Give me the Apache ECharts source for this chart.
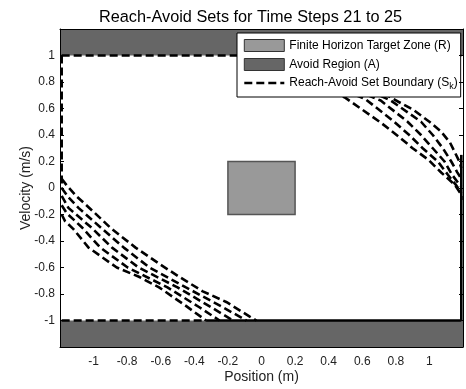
<!DOCTYPE html>
<html>
<head>
<meta charset="utf-8">
<script src="https://cdn.jsdelivr.net/npm/echarts@6/dist/echarts.min.js"></script>
<style>html,body{margin:0;padding:0;background:#fff}#c{width:466px;height:389px}</style>
</head>
<body>
<div id="c"></div>
<script>
// ---- data ----
const titleText = 'Reach-Avoid Sets for Time Steps 21 to 25';
const xName = 'Position (m)';
const yName = 'Velocity (m/s)';
const axisMin = -1.2, axisMax = 1.2, tickStep = 0.2;

// rectangles: [x0, y0, x1, y1]
const targetZone = [[-0.2, -0.2, 0.2, 0.2]];
const avoidRegion = [[-1.2, 1.0, 1.2, 1.2], [-1.2, -1.2, 1.2, -1.0]];

// reach-avoid boundaries, upper-right branches [position, velocity]
const tr1 = [[0.36,1.0],[0.52,0.88],[0.66,0.76],[0.815,0.651],[0.904,0.59],[1.0,0.50],[1.07,0.425],[1.123,0.342],[1.155,0.26],[1.178,0.2],[1.19,0.15]];
const tr2 = [[0.27,1.0],[0.43,0.88],[0.58,0.77],[0.77,0.66],[0.95,0.50],[1.02,0.40],[1.08,0.30],[1.13,0.20],[1.165,0.12],[1.19,0.07]];
const tr3 = [[0.19,1.0],[0.34,0.88],[0.50,0.77],[0.71,0.66],[0.87,0.50],[0.95,0.40],[1.02,0.30],[1.09,0.20],[1.135,0.10],[1.17,0.04],[1.19,0.01]];
const tr4 = [[0.12,1.0],[0.27,0.88],[0.43,0.77],[0.62,0.67],[0.79,0.50],[0.88,0.40],[0.96,0.30],[1.05,0.20],[1.11,0.10],[1.16,0.02],[1.19,-0.04]];
const tr5 = [[0.05,1.0],[0.20,0.87],[0.35,0.78],[0.50,0.68],[0.714,0.49],[0.815,0.39],[0.90,0.30],[0.993,0.214],[1.07,0.117],[1.15,0.026],[1.19,-0.05],[1.19,-0.09]];
// lower-left branches
const bl1 = [[-1.19,-0.2],[-1.17,-0.25],[-1.12,-0.31],[-1.03,-0.45],[-0.862,-0.60],[-0.73,-0.67],[-0.61,-0.75],[-0.45,-0.89],[-0.33,-1.0]];
const bl2 = [[-1.19,-0.13],[-1.16,-0.19],[-1.067,-0.30],[-0.96,-0.45],[-0.797,-0.60],[-0.56,-0.75],[-0.37,-0.90],[-0.25,-1.0]];
const bl3 = [[-1.19,-0.06],[-1.15,-0.15],[-1.012,-0.30],[-0.89,-0.45],[-0.732,-0.60],[-0.50,-0.75],[-0.30,-0.90],[-0.17,-1.0]];
const bl4 = [[-1.19,0.0],[-1.15,-0.07],[-1.09,-0.15],[-0.956,-0.30],[-0.82,-0.45],[-0.667,-0.60],[-0.45,-0.75],[-0.23,-0.90],[-0.09,-1.0]];
const bl5 = [[-1.19,0.07],[-1.16,0.02],[-1.10,-0.064],[-1.0,-0.18],[-0.90,-0.30],[-0.75,-0.45],[-0.60,-0.58],[-0.49,-0.67],[-0.35,-0.78],[-0.21,-0.86],[-0.07,-0.97],[-0.03,-1.0]];
// boundary segments along the state-space edges
const edgeTop = [[-1.19,1.0],[1.19,1.0]];
const edgeLeft = [[-1.19,1.0],[-1.19,0.0]];
const edgeBottomDashed = [[-1.19,-1.0],[-0.33,-1.0]];
const edgeBottomSolid = [[-0.33,-1.0],[1.19,-1.0]];
const edgeRightSolid = [[1.19,0.25],[1.19,-1.0]];

const nameTarget = 'Finite Horizon Target Zone (R)';
const nameAvoid = 'Avoid Region (A)';
const nameSet = 'Reach-Avoid Set Boundary (Sk)';

// ---- chart ----
const FONT = '"Liberation Sans", Arial, sans-serif';
const chart = echarts.init(document.getElementById('c'));

function rectRender(fill, stroke, lw) {
  return function (params, api) {
    const p0 = api.coord([api.value(0), api.value(3)]);
    const p1 = api.coord([api.value(2), api.value(1)]);
    return {
      type: 'rect',
      shape: { x: p0[0], y: p0[1], width: p1[0] - p0[0], height: p1[1] - p0[1] },
      style: { fill: fill, stroke: stroke, lineWidth: lw }
    };
  };
}
function fmt(v) {
  if (Math.abs(v) > 1.05) return '';
  let r = Math.round(v * 10) / 10;
  if (r === 0) r = 0;
  return String(r);
}
const dashed = { color: '#000', width: 2.6, type: [8, 4] };
const solid = { color: '#000', width: 2.6, type: 'solid' };
function lineSeries(data, style) {
  return {
    name: nameSet, type: 'line', data: data, showSymbol: false, symbol: 'none',
    lineStyle: style, itemStyle: { color: '#000' }, silent: true, animation: false,
    clip: false, z: 3
  };
}

const option = {
  animation: false,
  title: {
    text: titleText, left: 94, top: 5,
    textStyle: { fontFamily: FONT, fontSize: 16.3, fontWeight: 'normal', color: '#000' }
  },
  legend: {
    orient: 'vertical', left: 237, top: 33,
    padding: [6, 3, 6, 6], itemGap: 6, itemWidth: 40, itemHeight: 12,
    backgroundColor: '#fff', borderColor: '#000', borderWidth: 1, borderRadius: 0,
    selectedMode: false,
    textStyle: {
      fontFamily: FONT, fontSize: 12, color: '#000',
      rich: { sub: { fontFamily: FONT, fontSize: 9, color: '#000', padding: [7, 0, 0, 0] } }
    },
    formatter: function (n) { return n === nameSet ? 'Reach-Avoid Set Boundary (S{sub|k})' : n; },
    data: [
      { name: nameTarget, icon: 'rect', itemStyle: { color: '#999', borderColor: '#333', borderWidth: 1 } },
      { name: nameAvoid, icon: 'rect', itemStyle: { color: '#666', borderColor: '#333', borderWidth: 1 } },
      { name: nameSet, itemStyle: { opacity: 0 }, lineStyle: { color: '#000', width: 2.6, type: [8, 4] } }
    ]
  },
  grid: { left: 60, top: 29, width: 405, height: 319, show: false },
  xAxis: [{
    type: 'value', min: axisMin, max: axisMax, interval: tickStep, z: 5,
    name: xName, nameLocation: 'middle', nameGap: 23, nameMoveOverlap: false,
    nameTextStyle: { fontFamily: FONT, fontSize: 14, color: '#222' },
    axisLine: { show: true, onZero: false, lineStyle: { color: '#000', width: 1 } },
    axisTick: { show: false },
    axisLabel: { formatter: fmt, margin: 9, fontFamily: FONT, fontSize: 12, color: '#222' },
    splitLine: { show: false }
  }, {
    type: 'value', position: 'top', min: axisMin, max: axisMax, interval: tickStep, z: 5,
    axisLine: { show: true, onZero: false, lineStyle: { color: '#000', width: 1 } },
    axisTick: { show: false }, axisLabel: { show: false }, splitLine: { show: false }
  }],
  yAxis: [{
    type: 'value', min: axisMin, max: axisMax, interval: tickStep, z: 5,
    name: yName, nameLocation: 'middle', nameGap: 27, nameMoveOverlap: false,
    nameTextStyle: { fontFamily: FONT, fontSize: 14, color: '#222' },
    axisLine: { show: true, onZero: false, lineStyle: { color: '#000', width: 1 } },
    axisTick: { show: true, inside: true, length: 4, lineStyle: { color: '#000' } },
    axisLabel: { formatter: fmt, margin: 5, fontFamily: FONT, fontSize: 12, color: '#222' },
    splitLine: { show: false }
  }, {
    type: 'value', position: 'right', min: axisMin, max: axisMax, interval: tickStep, z: 5,
    axisLine: { show: true, onZero: false, lineStyle: { color: '#000', width: 1 } },
    axisTick: { show: true, inside: true, length: 4, lineStyle: { color: '#000' } },
    axisLabel: { show: false }, splitLine: { show: false }
  }],
  series: [
    { name: nameAvoid, type: 'custom', renderItem: rectRender('#666', '#555', 0), data: avoidRegion, silent: true, z: 1 },
    { name: nameTarget, type: 'custom', renderItem: rectRender('#999', '#555', 1.5), data: targetZone, silent: true, z: 1 },
    lineSeries(edgeTop, dashed),
    lineSeries(tr1, dashed), lineSeries(tr2, dashed), lineSeries(tr3, dashed), lineSeries(tr4, dashed), lineSeries(tr5, dashed),
    lineSeries(bl1, dashed), lineSeries(bl2, dashed), lineSeries(bl3, dashed), lineSeries(bl4, dashed), lineSeries(bl5, dashed),
    lineSeries(edgeLeft, dashed), lineSeries(edgeBottomDashed, dashed),
    lineSeries(edgeBottomSolid, solid), lineSeries(edgeRightSolid, solid)
  ]
};
chart.setOption(option);
</script>
</body>
</html>
